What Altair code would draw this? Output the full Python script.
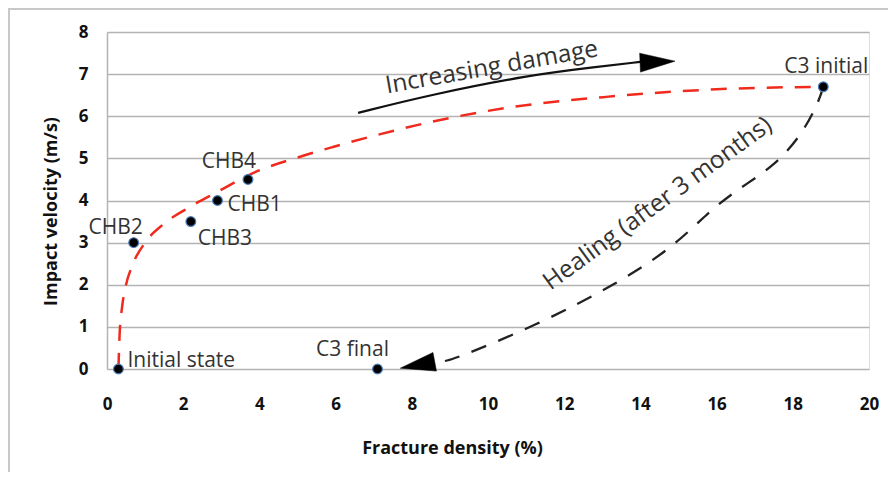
import altair as alt
import pandas as pd

# ---- data ----
point_names = ["Initial state", "CHB2", "CHB3", "CHB1", "CHB4", "C3 initial", "C3 final"]
point_x = [0.3, 0.7, 2.2, 2.9, 3.7, 18.8, 7.1]
point_y = [0.0, 3.0, 3.5, 4.0, 4.5, 6.7, 0.0]

damage_x = [0.3, 0.33, 0.4, 0.5, 0.66, 1.0, 1.5, 2.18, 2.89, 3.83, 5.07, 5.93, 7.5, 9.0, 10.5, 13.1, 15.75, 18.7]
damage_y = [0.0, 0.8, 1.5, 2.0, 2.45, 3.0, 3.45, 3.85, 4.2, 4.65, 5.04, 5.27, 5.65, 5.96, 6.2, 6.46, 6.63, 6.7]

healing_x = [18.8, 18.7, 18.27, 17.5, 16.6, 15.75, 14.87, 13.4, 11.37, 9.2, 8.87]
healing_y = [6.7, 6.39, 5.6, 4.8, 4.3, 3.7, 2.9, 2.03, 1.08, 0.26, 0.19]

trend_x = [6.59, 8.48, 11.10, 12.86, 13.99]
trend_y = [6.08, 6.51, 6.98, 7.17, 7.29]

head_x = [14.45, 8.15]
head_y = [7.29, 0.095]
head_angle = [357.5, 169.5]

note_text = ["Increasing damage", "Healing (after 3 months)"]
note_x = [10.1, 14.46]
note_y = [7.15, 3.92]
note_angle = [350, 324]

x_ticks = list(range(0, 21, 2))
y_ticks = list(range(0, 9, 1))

# ---- tables ----
pts = pd.DataFrame({"name": point_names, "x": point_x, "y": point_y})
dmg = pd.DataFrame({"x": damage_x, "y": damage_y, "i": range(len(damage_x))})
heal = pd.DataFrame({"x": healing_x, "y": healing_y, "i": range(len(healing_x))})
trend = pd.DataFrame({"x": trend_x, "y": trend_y, "i": range(len(trend_x))})
heads = pd.DataFrame({"x": head_x, "y": head_y, "a": head_angle})

FONT = "Open Sans"
XS = alt.Scale(domain=[0, 20], nice=False, zero=False)
YS = alt.Scale(domain=[0, 8], nice=False, zero=False)

xenc = alt.X("x:Q", scale=XS, axis=alt.Axis(
    values=x_ticks, grid=False, domain=False, ticks=False, labelPadding=27,
    labelFlush=False,
    labelFont=FONT, labelFontWeight="bold", labelFontSize=17, labelColor="#111",
    title="Fracture density (%)", titleFont=FONT, titleFontSize=18, titleFontWeight="bold",
    titleColor="#111", titleX=345, titleY=79, titleBaseline="middle", titleAnchor="middle",
    titleAlign="center"))
yenc = alt.Y("y:Q", scale=YS, axis=alt.Axis(
    values=y_ticks, grid=True, gridColor="#b3b3b3", gridWidth=1.5, domain=True,
    domainColor="#b3b3b3", domainWidth=1.5, ticks=False, labelPadding=19,
    labelFlush=False,
    labelFont=FONT, labelFontWeight="bold", labelFontSize=17, labelColor="#111",
    title="Impact velocity (m/s)", titleFont=FONT, titleFontSize=18, titleFontWeight="bold",
    titleColor="#111", titleX=-56, titleY=179, titleAngle=270, titleBaseline="middle",
    titleAlign="center"))

base_x = alt.X("x:Q", scale=XS)
base_y = alt.Y("y:Q", scale=YS)

damage_line = alt.Chart(dmg).mark_line(
    color="#f02a1c", strokeWidth=2.5, strokeDash=[16, 12], interpolate="monotone"
).encode(x=xenc, y=yenc, order="i:Q")

healing_line = alt.Chart(heal).mark_line(
    color="#222", strokeWidth=2.3, strokeDash=[16, 13], interpolate="basis"
).encode(x=base_x, y=base_y, order="i:Q")

trend_line = alt.Chart(trend).mark_line(
    color="#111", strokeWidth=2.2, interpolate="basis"
).encode(x=base_x, y=base_y, order="i:Q")

arrow_heads = alt.Chart(heads).mark_point(
    shape="M -1 -0.54 L 1 0 L -1 0.54 Z", filled=True, fill="#000", stroke="#000",
    strokeWidth=0.5, opacity=1, size=1225
).encode(x=base_x, y=base_y, angle=alt.Angle("a:Q", scale=None))

points = alt.Chart(pts).mark_point(
    shape="circle", filled=True, fill="#000", stroke="#4a7ebb", strokeWidth=1.2,
    opacity=1, size=95
).encode(x=base_x, y=base_y)

label_style = {
    "CHB4": dict(align="center", dx=-19, dy=-17),
    "CHB1": dict(align="left", dx=10, dy=4),
    "CHB3": dict(align="left", dx=7, dy=17),
    "CHB2": dict(align="center", dx=-18, dy=-15),
    "Initial state": dict(align="left", dx=9, dy=-8),
    "C3 final": dict(align="center", dx=-25, dy=-19),
    "C3 initial": dict(align="center", dx=3, dy=-20),
}
labels = []
for name in point_names:
    st = label_style[name]
    labels.append(
        alt.Chart(pts).transform_filter(alt.datum.name == name).mark_text(
            font=FONT, fontSize=21, color="#333", baseline="middle", **st
        ).encode(x=base_x, y=base_y, text="name:N")
    )

notes = []
for t, nx, ny, na in zip(note_text, note_x, note_y, note_angle):
    notes.append(
        alt.Chart(pd.DataFrame({"x": [nx], "y": [ny], "t": [t]})).mark_text(
            font=FONT, fontSize=24.5, color="#333", align="center", baseline="middle", angle=na
        ).encode(x=base_x, y=base_y, text="t:N")
    )

frame_left = alt.Chart(pts).mark_rule(color="#c8c8c8", strokeWidth=2).encode(
    x=alt.value(-98.5), y=alt.value(-23), y2=alt.value(470))
frame_top = alt.Chart(pts).mark_rule(color="#c8c8c8", strokeWidth=2).encode(
    x=alt.value(-98.5), x2=alt.value(800), y=alt.value(-23))

chart = alt.layer(
    damage_line, healing_line, trend_line, arrow_heads, points, *labels, *notes,
    frame_left, frame_top
).properties(
    width=762, height=337,
    autosize=alt.AutoSizeParams(type="none"),
    padding={"left": 99, "top": 24, "right": 19, "bottom": 103},
).configure_view(stroke=None).configure(background="white")

chart.save("out.html", embed_options={"renderer": "svg", "actions": False})
